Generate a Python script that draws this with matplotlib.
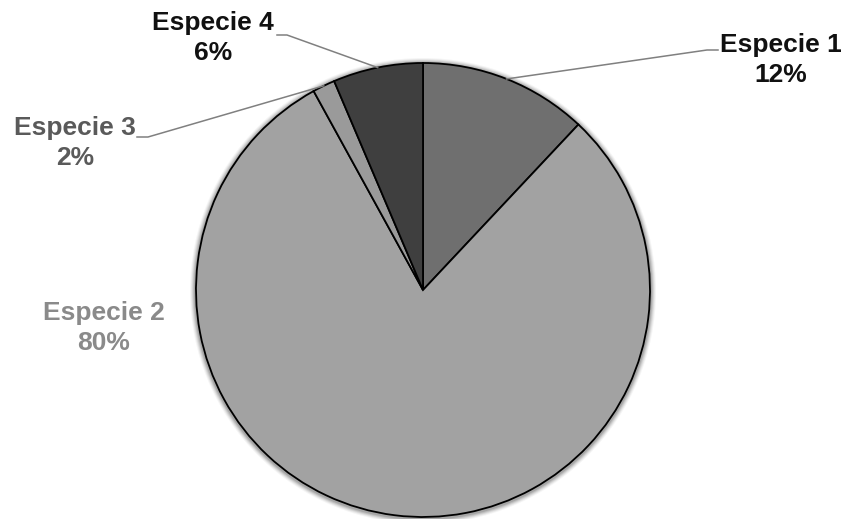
import numpy as np
import matplotlib
matplotlib.use("Agg")
import matplotlib.pyplot as plt
from matplotlib.patches import Circle

# datos
especies = ["Especie 1", "Especie 2", "Especie 3", "Especie 4"]
valores = [12, 80, 1.6, 6.4]
colores = ["#6f6f6f", "#a2a2a2", "#9a9a9a", "#3f3f3f"]
colores_texto = ["#111111", "#8a8a8a", "#5a5a5a", "#111111"]

W, H = 843, 519
fig = plt.figure(figsize=(W / 100, H / 100), dpi=100)
ax = fig.add_axes([0, 0, 1, 1])

cx, cy, r = 423, H - 290, 227

# sombra suave alrededor del pastel
for i, a in enumerate([0.04, 0.06, 0.08, 0.10, 0.12]):
    ax.add_patch(Circle((cx, cy - 1), r + 6 - i, color="#000000", alpha=a, lw=0, zorder=0))

wedges, _ = ax.pie(valores, colors=colores, startangle=90, counterclock=False,
                   center=(cx, cy), radius=r, frame=True,
                   wedgeprops=dict(edgecolor="black", linewidth=1.3))
ax.set_xlim(0, W)
ax.set_ylim(0, H)
ax.set_aspect("equal")
ax.axis("off")

total = sum(valores)
# posiciones de etiquetas (pixeles, y hacia abajo) y codo de la linea guia
etiquetas = {
    0: dict(pos=(781, 60), codo=[(707, 50), (718, 50)]),
    1: dict(pos=(104, 328), codo=None),
    2: dict(pos=(75, 143), codo=[(148, 137), (137, 137)]),
    3: dict(pos=(213, 38), codo=[(287, 35), (277, 35)]),
}

for i, w in enumerate(wedges):
    ang = np.deg2rad((w.theta1 + w.theta2) / 2)
    ex, ey = cx + r * np.cos(ang), cy + r * np.sin(ang)
    pct = round(valores[i] / total * 100)
    info = etiquetas[i]
    tx, ty = info["pos"]
    ax.text(tx, H - ty, f"{especies[i]}\n{pct}%", ha="center", va="center",
            fontsize=19, fontweight="bold", color=colores_texto[i],
            family="Liberation Sans", linespacing=1.3)
    if info["codo"]:
        xs = [ex] + [p[0] for p in info["codo"]]
        ys = [ey] + [H - p[1] for p in info["codo"]]
        ax.plot(xs, ys, color="#808080", lw=1.1, zorder=1)

fig.savefig("out.png", dpi=100)
